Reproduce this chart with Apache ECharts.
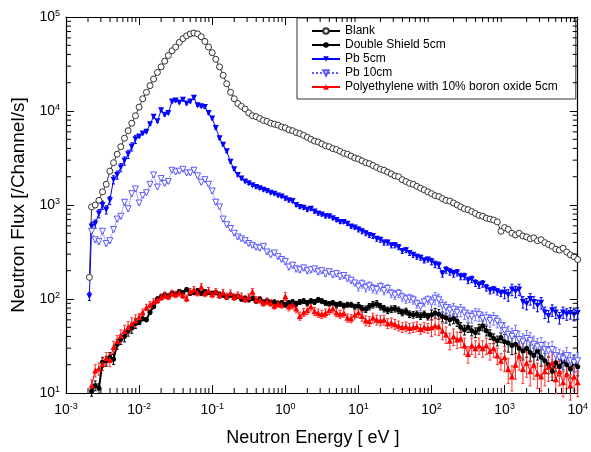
<!DOCTYPE html>
<html>
<head>
<meta charset="utf-8">
<script src="https://cdn.jsdelivr.net/npm/echarts@6/dist/echarts.min.js"></script>
<style>
  html, body { margin: 0; padding: 0; background: #fff; }
  #chart { width: 591px; height: 452px; }
</style>
</head>
<body>
<div id="chart"></div>
<script>
// neutron energy [eV], shared by all spectra
const energy = [
  2.09e-3, 2.24e-3, 2.51e-3, 2.82e-3, 3.16e-3, 3.55e-3, 3.98e-3, 4.47e-3, 5.01e-3, 5.62e-3, 6.31e-3, 7.08e-3, 7.94e-3, 8.91e-3,
  1.00e-2, 1.12e-2, 1.26e-2, 1.41e-2, 1.58e-2, 1.78e-2, 2.00e-2, 2.24e-2, 2.51e-2, 2.82e-2, 3.16e-2, 3.55e-2, 3.98e-2, 4.47e-2, 5.01e-2, 5.62e-2, 6.31e-2, 7.08e-2, 7.94e-2, 8.91e-2,
  1.00e-1, 1.12e-1, 1.26e-1, 1.41e-1, 1.58e-1, 1.78e-1, 2.00e-1, 2.24e-1, 2.51e-1, 2.82e-1, 3.16e-1, 3.55e-1, 3.98e-1, 4.47e-1, 5.01e-1, 5.62e-1, 6.31e-1, 7.08e-1, 7.94e-1, 8.91e-1,
  1.00e0, 1.12e0, 1.26e0, 1.41e0, 1.58e0, 1.78e0, 2.00e0, 2.24e0, 2.51e0, 2.82e0, 3.16e0, 3.55e0, 3.98e0, 4.47e0, 5.01e0, 5.62e0, 6.31e0, 7.08e0, 7.94e0, 8.91e0,
  1.00e1, 1.12e1, 1.26e1, 1.41e1, 1.58e1, 1.78e1, 2.00e1, 2.24e1, 2.51e1, 2.82e1, 3.16e1, 3.55e1, 3.98e1, 4.47e1, 5.01e1, 5.62e1, 6.31e1, 7.08e1, 7.94e1, 8.91e1,
  1.00e2, 1.12e2, 1.26e2, 1.41e2, 1.58e2, 1.78e2, 2.00e2, 2.24e2, 2.51e2, 2.82e2, 3.16e2, 3.55e2, 3.98e2, 4.47e2, 5.01e2, 5.62e2, 6.31e2, 7.08e2, 7.94e2, 8.91e2,
  1.00e3, 1.12e3, 1.26e3, 1.41e3, 1.58e3, 1.78e3, 2.00e3, 2.24e3, 2.51e3, 2.82e3, 3.16e3, 3.55e3, 3.98e3, 4.47e3, 5.01e3, 5.62e3, 6.31e3, 7.08e3, 7.94e3, 8.91e3,
  1.00e4
];

// neutron flux [/channel/s]
const blank = [
  170, 955, 1000, 1120, 1380, 1660, 2290, 2820, 3470, 4170, 5130, 6170, 7410, 8910,
  11000, 13500, 15800, 18600, 21900, 25700, 29500, 33900, 38900, 43700, 47900, 53700, 58900, 63100, 66100, 67600, 66100, 61700, 55000, 47900,
  41700, 35500, 29500, 24000, 19500, 15800, 13500, 12000, 11200, 10500, 9550, 8910, 8710, 8320, 7940, 7760, 7410, 7240, 7080, 6760,
  6610, 6310, 6170, 5890, 5750, 5500, 5250, 5010, 4790, 4680, 4470, 4270, 4170, 3980, 3890, 3720, 3550, 3470, 3310, 3160,
  3090, 2950, 2820, 2750, 2630, 2510, 2400, 2340, 2240, 2140, 2040, 2000, 1860, 1780, 1700, 1660, 1580, 1510, 1450, 1380,
  1320, 1260, 1230, 1170, 1120, 1100, 1050, 1000, 955, 912, 891, 851, 813, 776, 759, 724, 708, 692, 661, 525,
  575, 550, 501, 479, 501, 468, 457, 437, 447, 417, 427, 398, 380, 363, 339, 331, 347, 316, 295, 282,
  263
];

const doubleShield = [
  null, 10.5, 12.0, 11.2, 21.4, 21.9, 24.0, 22.9, 33.1, 37.2, 39.8, 45.7, 49.0, 55.0,
  56.2, 61.7, 60.3, 72.4, 83.2, 100, 105, 110, 107, 115, 112, 120, 117, 126, 115, 117, 123, 115, 120, 117,
  115, 117, 112, 110, 105, 110, 105, 107, 100, 102, 98, 102, 95, 100, 93, 95, 91, 93, 89, 91,
  87, 91, 93, 89, 93, 95, 91, 95, 93, 98, 95, 91, 89, 91, 87, 89, 85, 87, 87, 83,
  85, 79, 78, 83, 87, 89, 83, 79, 76, 78, 79, 76, 72, 74, 69, 68, 69, 66, 69, 65,
  68, 71, 69, 65, 63, 60, 62, 58, 50, 47, 50, 46, 44, 48, 52, 46, 42, 38, 36, 39,
  35, 34, 32, 33, 30, 28, 30, 27, 25, 28, 24, 22, 20, 17, 21, 19, 22, 20, 18, 21,
  19
];

const pb5 = [
  107, 589, 631, 813, 1000, 891, 1120, 1860, 2090, 2510, 2950, 3470, 4170, 5010,
  5370, 5750, 6030, 7240, 8710, 7760, 10200, 9120, 9550, 12600, 12900, 12300, 13200, 12000, 12600, 13800, 11500, 11200, 11000, 9550,
  8320, 6610, 5130, 4370, 3720, 2880, 2400, 2090, 1910, 1780, 1700, 1620, 1550, 1510, 1450, 1410, 1350, 1320, 1260, 1230,
  1170, 1120, 1100, 1000, 955, 933, 891, 912, 851, 813, 794, 759, 759, 724, 692, 661, 661, 631, 589, 575,
  550, 525, 501, 479, 468, 437, 427, 398, 398, 372, 372, 355, 324, 331, 309, 295, 282, 275, 257, 263,
  251, 234, 229, 186, 204, 195, 186, 191, 174, 174, 158, 162, 148, 141, 145, 132, 123, 126, 120, 115,
  117, 110, 126, 120, 126, 93, 89, 100, 93, 85, 91, 72, 66, 76, 72, 63, 72, 69, 71, 68,
  71
];

const pb10 = [
  null, 525, 427, 407, 525, 389, 417, 550, 708, 759, 1070, 912, 1320, 1480,
  1050, 1260, 1350, 1660, 2090, 1550, 1910, 1700, 1780, 2340, 2240, 2290, 2400, 2190, 2190, 2340, 2040, 1740, 1860, 1660,
  1410, 1070, 955, 708, 617, 562, 501, 457, 437, 417, 389, 372, 355, 347, 363, 316, 295, 309, 282, 263,
  251, 219, 229, 209, 204, 214, 200, 204, 209, 195, 200, 186, 195, 182, 186, 174, 178, 166, 158, 148,
  135, 145, 132, 138, 129, 126, 135, 123, 129, 115, 110, 115, 105, 100, 102, 98, 89, 83, 93, 98,
  91, 102, 98, 85, 81, 76, 78, 72, 76, 71, 66, 65, 69, 68, 62, 63, 59, 62, 58, 52,
  46, 42, 40, 43, 37, 35, 38, 36, 33, 31, 32, 29, 28, 29, 25, 24, 23, 25, 22, 21,
  22
];

const polyBoron = [
  null, 12.0, 17.4, 18.2, 20.4, 23.4, 22.4, 30.9, 35.5, 40.7, 45.7, 50.1, 55.0, 58.9,
  64.6, 72.4, 81.3, 87.1, 93.3, 97.7, 105, 110, 107, 115, 112, 117, 110, 102, 120, 126, 117, 135, 115, 123,
  112, 120, 110, 117, 107, 115, 105, 110, 107, 100, 105, 120, 98, 98, 91, 95, 91, 85, 89, 87,
  107, 83, 87, 79, 66, 72, 76, 83, 74, 71, 69, 71, 76, 79, 72, 69, 71, 63, 62, 68,
  72, 66, 59, 58, 63, 60, 59, 60, 55, 56, 54, 52, 50, 51, 49, 50, 51, 48, 50, 49,
  50, 52, 51, 46, 42, 36, 40, 37, 38, 32, 26, 32, 30, 32, 30, 32, 28, 30, 25, 22,
  24, 18, 15, 20, 25, 18, 21, 17, 20, 16, 15, 17, 19, 21, 14, 17, 13, 16, 12, 15,
  13
];

// relative statistical error, one value per energy decade (1e-3 ... 1e3)
const errBlank = [0.03, 0.02, 0.02, 0.02, 0.02, 0.03, 0.04];
const errDouble = [0.12, 0.05, 0.05, 0.06, 0.08, 0.12, 0.2];
const errPb5 = [0.1, 0.03, 0.03, 0.04, 0.06, 0.08, 0.14];
const errPb10 = [0.06, 0.04, 0.05, 0.07, 0.1, 0.15, 0.22];
const errPoly = [0.15, 0.08, 0.08, 0.1, 0.12, 0.2, 0.3];

const seriesNames = ["Blank", "Double Shield 5cm", "Pb 5cm", "Pb 10cm", "Polyethylene with 10% boron oxide 5cm"];

// axis ranges (decades)
const xDecades = [1e-3, 1e-2, 1e-1, 1, 10, 100, 1000];
const yDecades = [10, 100, 1000, 10000];
const minorSteps = [2, 3, 4, 5, 6, 7, 8, 9];
const X_MIN = 1e-3, X_MAX = 1e4, Y_MIN = 10, Y_MAX = 1e5;

const FONT = "Liberation Sans, Arial, sans-serif";

const pairs = (ys) => energy.map((e, i) => [e, ys[i]]).filter((p) => p[1] != null);

const decadeOf = (e) => Math.min(6, Math.max(0, Math.floor(Math.log10(e) + 3 + 1e-9)));
const errRows = (ys, rel) =>
  energy
    .map((e, i) => (ys[i] == null ? null : [e, ys[i] * (1 - rel[decadeOf(e)]), ys[i] * (1 + rel[decadeOf(e)])]))
    .filter(Boolean);

const xMinor = [];
xDecades.forEach((d) => minorSteps.forEach((m) => xMinor.push([d * m, Y_MIN])));
const yMinor = [];
yDecades.forEach((d) => minorSteps.forEach((m) => yMinor.push([X_MIN, d * m])));

// 10^n labels
const powLabel = (v) => {
  const n = Math.round(Math.log10(v));
  return "{b|10}{e|" + n + "}";
};
const powRich = {
  b: { fontSize: 14, fontFamily: FONT, color: "#000" },
  e: { fontSize: 9, fontFamily: FONT, color: "#000", verticalAlign: "top", padding: [0, 0, 7, 0] },
};

const frameAxis = {
  axisLine: { show: true, onZero: false, lineStyle: { color: "#000", width: 1.2 } },
  axisTick: { show: true, inside: true, length: 8, lineStyle: { color: "#000" } },
  splitLine: { show: false },
};

const tickLine = (x1, y1, x2, y2, stroke) => ({
  type: "line",
  shape: { x1, y1, x2, y2 },
  style: { stroke: stroke || "#000", lineWidth: 1 },
});

const errorBars = (ys, rel, stroke) => ({
  type: "custom",
  silent: true,
  z: 1,
  data: errRows(ys, rel),
  renderItem: (params, api) => {
    const lo = api.coord([api.value(0), api.value(1)]);
    const hi = api.coord([api.value(0), api.value(2)]);
    return {
      type: "group",
      children: [
        tickLine(lo[0], lo[1], hi[0], hi[1], stroke),
        tickLine(lo[0] - 1.5, lo[1], lo[0] + 1.5, lo[1], stroke),
        tickLine(hi[0] - 1.5, hi[1], hi[0] + 1.5, hi[1], stroke),
      ],
    };
  },
});

const chart = echarts.init(document.getElementById("chart"));

chart.setOption({
  animation: false,
  backgroundColor: "#fff",
  grid: { left: 66, right: 11, top: 17, bottom: 59, containLabel: false },
  legend: {
    orient: "vertical",
    left: 297,
    top: 18,
    itemWidth: 28,
    itemHeight: 7,
    itemGap: 2,
    padding: [7, 18, 6, 14],
    borderColor: "#333",
    borderWidth: 1,
    backgroundColor: "#fff",
    textStyle: { fontFamily: FONT, fontSize: 12, color: "#000" },
    data: seriesNames,
  },
  xAxis: [
    {
      type: "log",
      logBase: 10,
      min: X_MIN,
      max: X_MAX,
      splitNumber: 7,
      name: "Neutron Energy [ eV ]",
      nameLocation: "middle",
      nameGap: 36,
      nameTextStyle: { fontFamily: FONT, fontSize: 18, color: "#000", padding: [0, 18, 0, 0] },
      axisLabel: { formatter: powLabel, rich: powRich, margin: 9 },
      ...frameAxis,
    },
    {
      type: "log",
      logBase: 10,
      min: X_MIN,
      max: X_MAX,
      splitNumber: 7,
      position: "top",
      axisLabel: { show: false },
      ...frameAxis,
    },
  ],
  yAxis: [
    {
      type: "log",
      logBase: 10,
      min: Y_MIN,
      max: Y_MAX,
      splitNumber: 4,
      name: "Neutron Flux [/Channel/s]",
      nameLocation: "middle",
      nameGap: 30,
      nameTextStyle: { fontFamily: FONT, fontSize: 19, color: "#000" },
      axisLabel: { formatter: powLabel, rich: powRich, margin: 6 },
      ...frameAxis,
    },
    {
      type: "log",
      logBase: 10,
      min: Y_MIN,
      max: Y_MAX,
      splitNumber: 4,
      position: "right",
      axisLabel: { show: false },
      ...frameAxis,
    },
  ],
  series: [
    errorBars(blank, errBlank, "#555"),
    errorBars(doubleShield, errDouble, "#000"),
    errorBars(pb5, errPb5, "#0000ff"),
    errorBars(pb10, errPb10, "#7a7aff"),
    errorBars(polyBoron, errPoly, "#ff3030"),
    {
      name: seriesNames[0],
      type: "line",
      data: pairs(blank),
      showAllSymbol: true,
      symbol: "circle",
      symbolSize: 6,
      itemStyle: { color: "#fff", borderColor: "#333", borderWidth: 1 },
      lineStyle: { color: "#000", width: 0.8 },
    },
    {
      name: seriesNames[1],
      type: "line",
      data: pairs(doubleShield),
      showAllSymbol: true,
      symbol: "circle",
      symbolSize: 5,
      itemStyle: { color: "#000" },
      lineStyle: { color: "#000", width: 2 },
    },
    {
      name: seriesNames[2],
      type: "line",
      data: pairs(pb5),
      showAllSymbol: true,
      symbol: "triangle",
      symbolRotate: 180,
      symbolSize: 6,
      itemStyle: { color: "#0000ff" },
      lineStyle: { color: "#0000ff", width: 1 },
    },
    {
      name: seriesNames[3],
      type: "line",
      data: pairs(pb10),
      showAllSymbol: true,
      symbol: "triangle",
      symbolRotate: 180,
      symbolSize: 6,
      itemStyle: { color: "#fff", borderColor: "#5a5aff", borderWidth: 1 },
      lineStyle: { color: "#5a5aff", width: 1, type: "dotted" },
    },
    {
      name: seriesNames[4],
      type: "line",
      data: pairs(polyBoron),
      showAllSymbol: true,
      symbol: "triangle",
      symbolSize: 6,
      itemStyle: { color: "#ff0000" },
      lineStyle: { color: "#ff0000", width: 1 },
    },
    {
      // minor ticks on bottom / top frame
      type: "custom",
      silent: true,
      clip: false,
      z: 10,
      data: xMinor,
      renderItem: (params, api) => {
        const b = api.coord([api.value(0), Y_MIN]);
        const t = api.coord([api.value(0), Y_MAX]);
        return {
          type: "group",
          children: [tickLine(b[0], b[1], b[0], b[1] - 5), tickLine(t[0], t[1], t[0], t[1] + 5)],
        };
      },
    },
    {
      // minor ticks on left / right frame
      type: "custom",
      silent: true,
      clip: false,
      z: 10,
      data: yMinor,
      renderItem: (params, api) => {
        const l = api.coord([X_MIN, api.value(1)]);
        const r = api.coord([X_MAX, api.value(1)]);
        return {
          type: "group",
          children: [tickLine(l[0], l[1], l[0] + 5, l[1]), tickLine(r[0], r[1], r[0] - 5, r[1])],
        };
      },
    },
  ],
});
</script>
</body>
</html>
